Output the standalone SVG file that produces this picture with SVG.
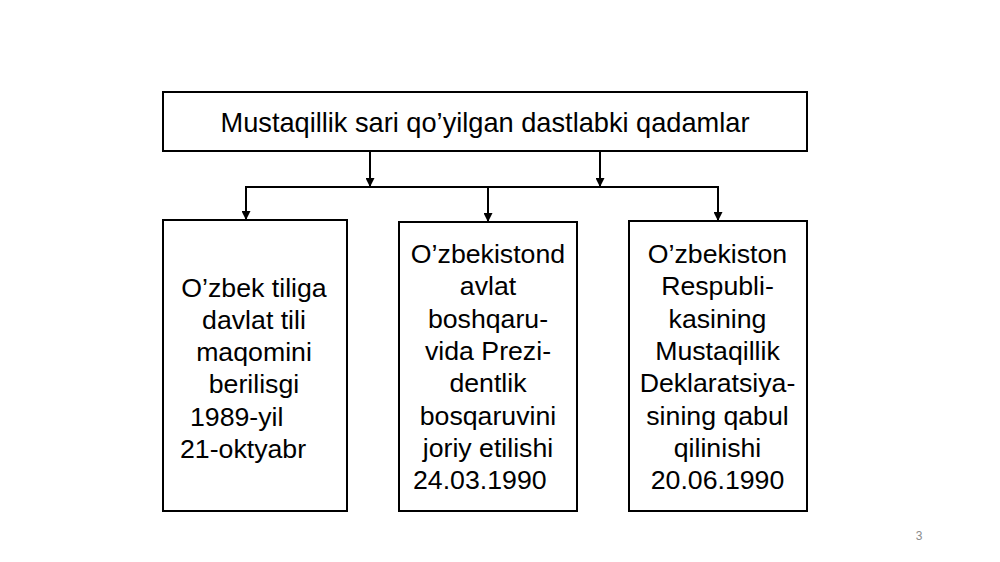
<svg xmlns="http://www.w3.org/2000/svg" width="1000" height="562" viewBox="0 0 1000 562">
<style>
.box{fill:#fff;stroke:#000;stroke-width:2}
.t{font-family:"Liberation Sans",Arial,sans-serif;font-size:26.7px;fill:#000}
.h{font-size:27.2px}
.c{text-anchor:middle}
.conn{fill:none;stroke:#000;stroke-width:2}
.pg{font-family:"Liberation Sans",Arial,sans-serif;font-size:12px;fill:#8c8c8c}
</style>
<defs>
<marker id="ah" viewBox="0 0 10 10" refX="10" refY="5" markerWidth="4.5" markerHeight="4.5" markerUnits="strokeWidth" orient="auto">
<path d="M0,0 L10,5 L0,10 z" fill="#000"/>
</marker>
</defs>
<rect width="1000" height="562" fill="#fff"/>
<g id="connectors">
<line class="conn" x1="370" y1="151" x2="370" y2="187" marker-end="url(#ah)"/>
<line class="conn" x1="600" y1="151" x2="600" y2="187" marker-end="url(#ah)"/>
<polyline class="conn" points="246,220 246,187 718,187 718,221"/>
<line class="conn" x1="246" y1="187" x2="246" y2="220" marker-end="url(#ah)"/>
<line class="conn" x1="488" y1="187" x2="488" y2="222" marker-end="url(#ah)"/>
<line class="conn" x1="718" y1="187" x2="718" y2="221" marker-end="url(#ah)"/>
</g>
<g id="title">
<rect class="box" x="163" y="92" width="644" height="59"/>
<text class="t h c" x="485" y="132">Mustaqillik sari qo’yilgan dastlabki qadamlar</text>
</g>
<g id="node1">
<rect class="box" x="163" y="220" width="184" height="291"/>
<text class="t c" x="254" y="296.5">O’zbek tiliga</text>
<text class="t c" x="254" y="328.8">davlat tili</text>
<text class="t c" x="254" y="361.1">maqomini</text>
<text class="t c" x="254" y="393.4">berilisgi</text>
<text class="t" x="190" y="425.7">1989-yil</text>
<text class="t" x="180" y="458">21-oktyabr</text>
</g>
<g id="node2">
<rect class="box" x="399" y="222" width="178" height="289"/>
<text class="t c" x="488" y="263">O’zbekistond</text>
<text class="t c" x="488" y="295.3">avlat</text>
<text class="t c" x="488" y="327.6">boshqaru-</text>
<text class="t c" x="488" y="359.9">vida Prezi-</text>
<text class="t c" x="488" y="392.2">dentlik</text>
<text class="t c" x="488" y="424.5">bosqaruvini</text>
<text class="t c" x="488" y="456.8">joriy etilishi</text>
<text class="t" x="413" y="489">24.03.1990</text>
</g>
<g id="node3">
<rect class="box" x="629" y="221" width="178" height="290"/>
<text class="t c" x="717.5" y="263">O’zbekiston</text>
<text class="t c" x="717.5" y="295.3">Respubli-</text>
<text class="t c" x="717.5" y="327.6">kasining</text>
<text class="t c" x="717.5" y="359.9">Mustaqillik</text>
<text class="t c" x="717.5" y="392.2">Deklaratsiya-</text>
<text class="t c" x="717.5" y="424.5">sining qabul</text>
<text class="t c" x="717.5" y="456.8">qilinishi</text>
<text class="t c" x="717.5" y="489">20.06.1990</text>
</g>
<text class="pg" x="919" y="540" text-anchor="middle">3</text>
</svg>
